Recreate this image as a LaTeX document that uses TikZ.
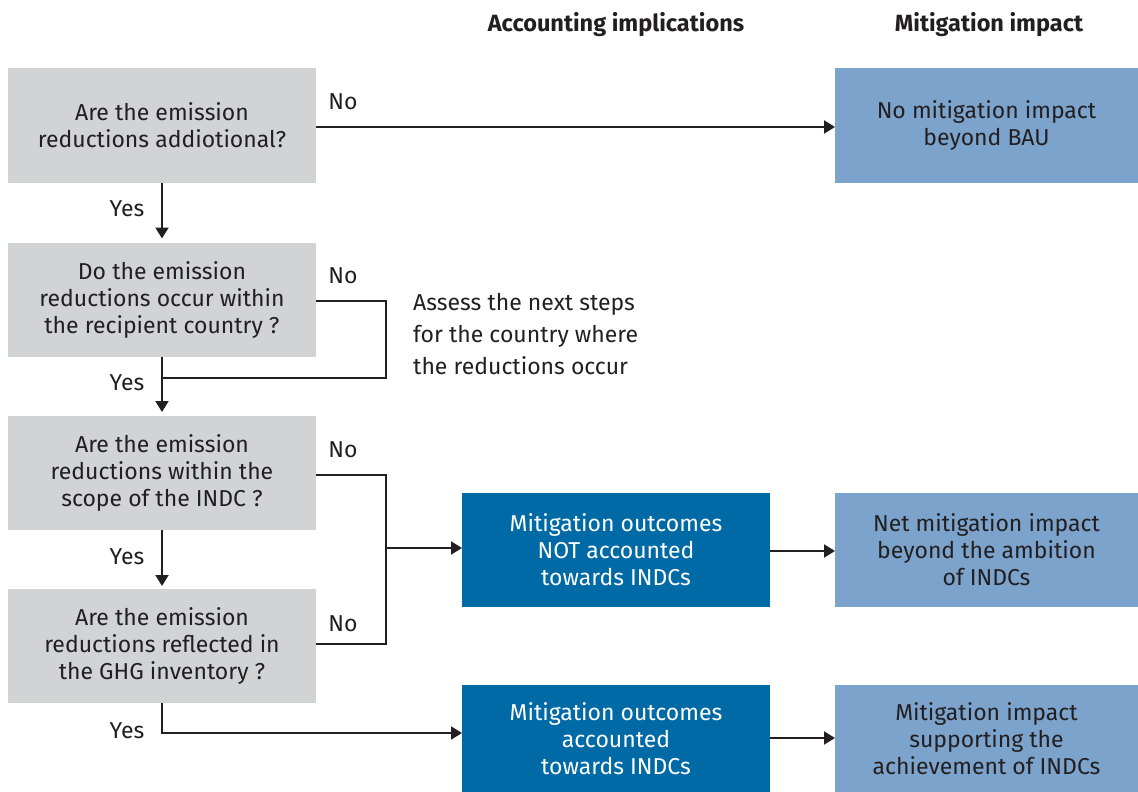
\documentclass[tikz,border=0pt]{standalone}
\usepackage{fontspec}
\setmainfont{Fira Sans}
\usetikzlibrary{arrows.meta}
\definecolor{gbox}{HTML}{D1D3D4}
\definecolor{dblue}{HTML}{006AA7}
\definecolor{lblue}{HTML}{7BA3CC}
\definecolor{ink}{HTML}{231F20}
\begin{document}
\begin{tikzpicture}[x=1pt,y=-1pt,
  every node/.style={font=\fontsize{23}{27}\selectfont, text=ink},
  box/.style={inner sep=0pt, outer sep=0pt, align=center, minimum height=114pt},
  qbox/.style={box, fill=gbox, minimum width=308pt},
  dbox/.style={box, fill=dblue, minimum width=308pt, text=white},
  lbox/.style={box, fill=lblue, minimum width=303pt},
  lab/.style={inner sep=0pt},
  conn/.style={draw=ink, line width=2pt},
  arr/.style={conn, -{Triangle[length=11pt,width=13pt]}},
  head/.style={font=\fontsize{23.5}{27}\selectfont\bfseries}
]
\useasboundingbox (0,0) rectangle (1138,792);
\node[head] (h1) at (616,25) {Accounting implications};
\node[head] (h2) at (989,25) {Mitigation impact};

\node[qbox] (q1) at (162,125.5) {Are the emission\\reductions addiotional?};
\node[qbox] (q2) at (162,299.5) {Do the emission\\reductions occur within\\the recipient country ?};
\node[qbox] (q3) at (162,473) {Are the emission\\reductions within the\\scope of the INDC ?};
\node[qbox] (q4) at (162,646) {Are the emission\\reductions reflected in\\the GHG inventory ?};

\node[dbox] (d1) at (616,549.5) {Mitigation outcomes\\NOT accounted\\towards INDCs};
\node[dbox, minimum height=109pt] (d2) at (616,739) {Mitigation outcomes\\accounted\\towards INDCs};

\node[lbox] (m1) at (986.5,125.5) {No mitigation impact\\beyond BAU};
\node[lbox] (m2) at (986.5,549.5) {Net mitigation impact\\beyond the ambition\\of INDCs};
\node[lbox, minimum height=109pt] (m3) at (986.5,739) {Mitigation impact\\supporting the\\achievement of INDCs};

\node[lab, anchor=north west, align=left, font=\fontsize{23}{32}\selectfont] (assess) at (413,293) {Assess the next steps\\for the country where\\the reductions occur};

\coordinate (j2) at (386,378);
\coordinate (j3) at (386,548);

% connectors
\draw[arr] ([yshift=-1.5pt]q1.east) -- ([yshift=-1.5pt]m1.west);
\draw[arr, shorten >=4pt] (q1.south) -- (q2.north);
\draw[conn] ([yshift=-1.5pt]q2.east) -| (j2) -- (j2 -| q2.south);
\draw[arr, shorten >=4pt] (q2.south) -- (q3.north);
\draw[arr, shorten >=3pt] (q3.south) -- (q4.north);
\draw[conn] ([yshift=-1.5pt]q3.east) -| (j3) |- ([yshift=2pt]q4.east);
\draw[arr] (j3) -- (j3 -| d1.west);
\draw[arr] (q4.south) |- ([yshift=6pt]d2.west);
\draw[arr] ([yshift=-1.5pt]d1.east) -- ([yshift=-1.5pt]m2.west);
\draw[arr] ([yshift=1pt]d2.east) -- ([yshift=1pt]m3.west);

% labels
\node[lab] (no1) at (343,102) {No};
\node[lab] (no2) at (343,276) {No};
\node[lab] (no3) at (343,450) {No};
\node[lab] (no4) at (343,624) {No};
\node[lab] (y1) at (127,209) {Yes};
\node[lab] (y2) at (127,383) {Yes};
\node[lab] (y3) at (127,557) {Yes};
\node[lab] (y4) at (127,731) {Yes};
\end{tikzpicture}
\end{document}
